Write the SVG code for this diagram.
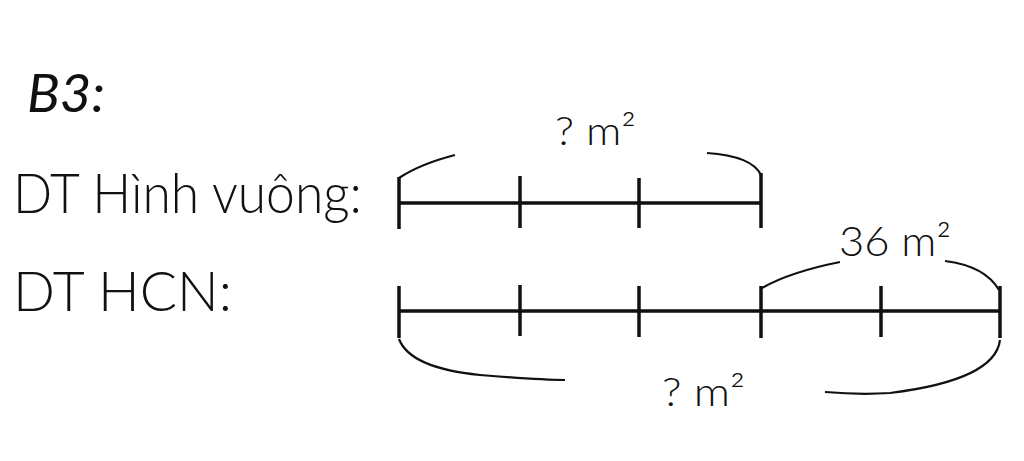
<svg xmlns="http://www.w3.org/2000/svg" width="1024" height="461" viewBox="0 0 1024 461">
<style>
.t{font-family:Lato,"Open Sans",sans-serif;font-weight:300;fill:#111}
.h{font-family:Lato,"Open Sans",sans-serif;font-weight:400;font-style:italic;fill:#111}
.ln{stroke:#111;stroke-width:3.5;fill:none;stroke-linecap:butt}
.br{stroke:#111;stroke-width:2.2;fill:none}
</style>
<rect width="1024" height="461" fill="#fff"/>
<g id="title"><text class="h" x="27" y="112" font-size="53" textLength="78" lengthAdjust="spacingAndGlyphs">B3:</text></g>
<g id="label-square"><text class="t" x="13" y="213" font-size="56" textLength="349" lengthAdjust="spacingAndGlyphs">DT Hình vuông:</text></g>
<g id="label-rect"><text class="t" x="13" y="311" font-size="56" textLength="219" lengthAdjust="spacingAndGlyphs">DT HCN:</text></g>
<g id="bar-square">
<path class="ln" d="M399 203H761M399 177V229M520 176V228M639 178V228M761 173V228"/>
</g>
<g id="bar-rect">
<path class="ln" d="M399 311H1000M399 286V338M520 285V336M639 286V337M761 286V338M881 286V337M1000 286V338"/>
</g>
<g id="connectors">
<path class="br" d="M399 178Q420 164 455 155"/>
<path class="br" d="M707 153Q752 156 761 175"/>
<path class="br" d="M762 288Q790 272 840 262"/>
<path class="br" d="M945 261Q985 266 999 290"/>
<path class="br" d="M399 339Q410 368 480 375Q540 380 565 380"/>
<path class="br" d="M825 392Q860 395 890 393Q995 380 1000 340"/>
</g>
<g id="labels">
<text class="t" x="555" y="145" font-size="40" textLength="81" lengthAdjust="spacingAndGlyphs">? m²</text>
<text class="t" x="839" y="256" font-size="42" textLength="112" lengthAdjust="spacingAndGlyphs">36 m²</text>
<text class="t" x="662" y="406" font-size="40" textLength="83" lengthAdjust="spacingAndGlyphs">? m²</text>
</g>
</svg>
